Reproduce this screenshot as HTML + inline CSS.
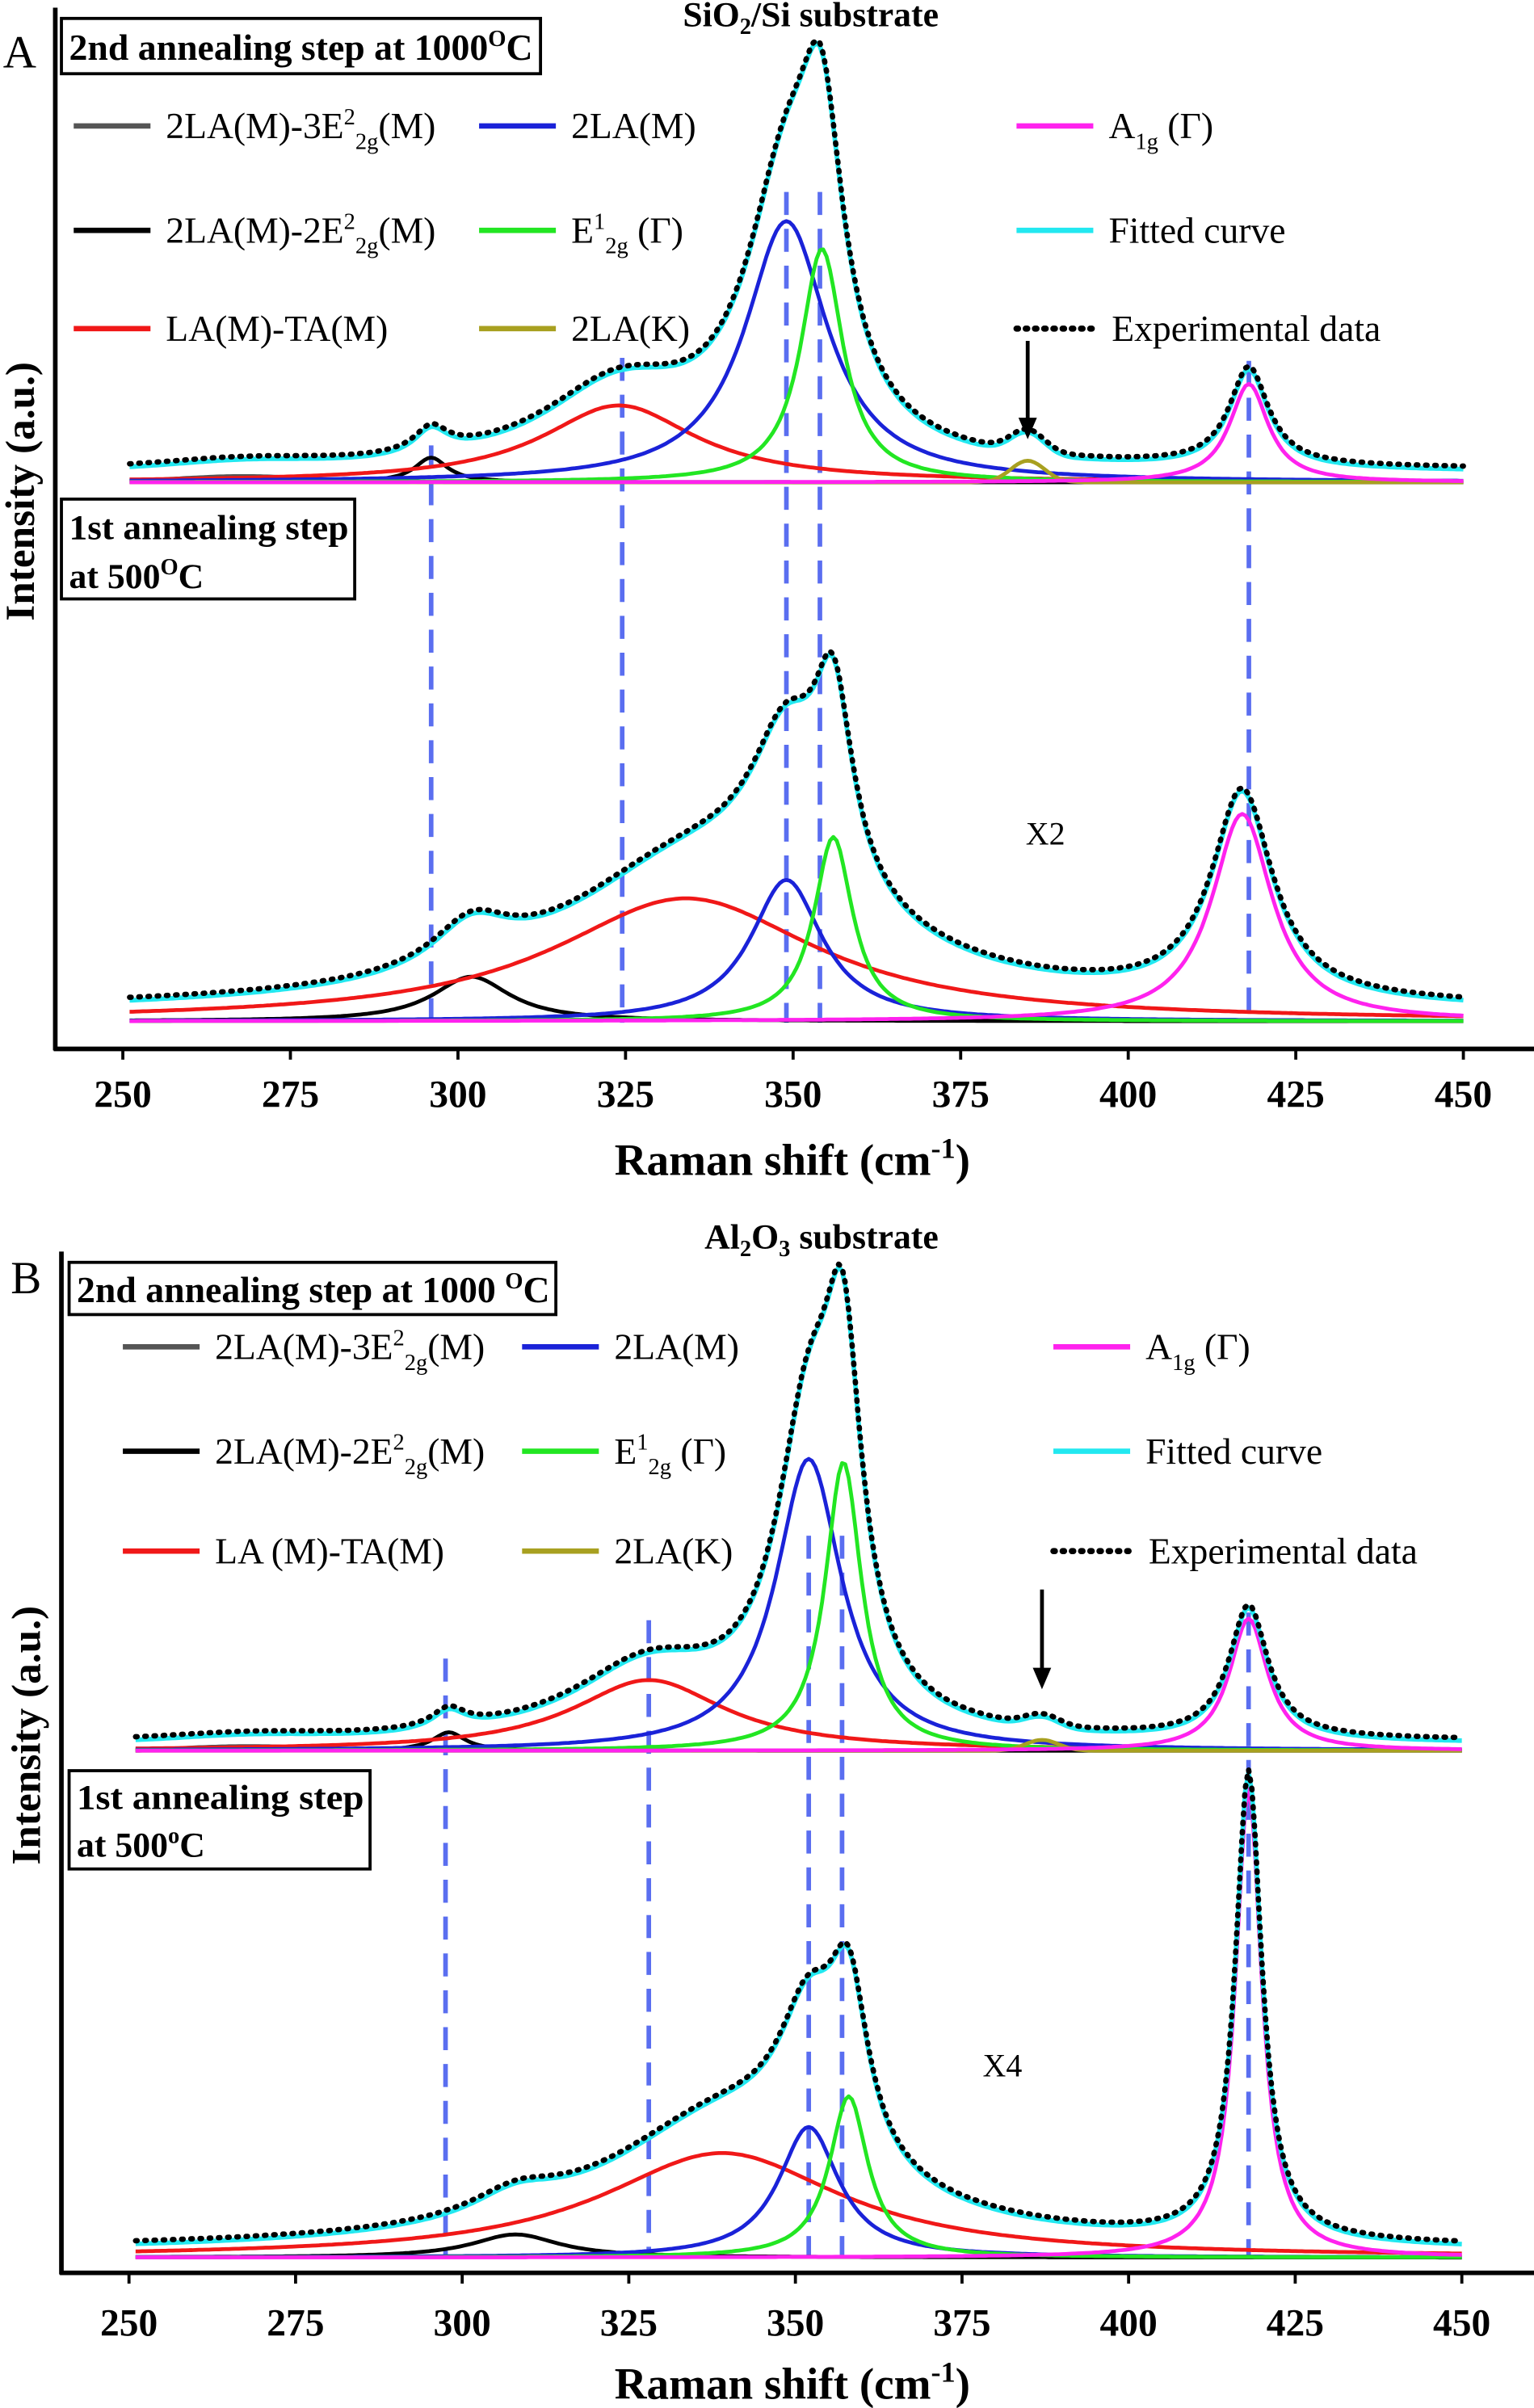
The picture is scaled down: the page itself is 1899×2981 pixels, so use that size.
<!DOCTYPE html>
<html><head><meta charset="utf-8"><style>
html,body{margin:0;padding:0;background:#fff}
svg{display:block}
text{font-family:"Liberation Serif",serif;fill:#000}
.t{font-size:24px}
.b{font-weight:bold}
</style></head><body>
<svg id="s" width="1899" height="2981" viewBox="0 0 999 1568" preserveAspectRatio="none" xmlns="http://www.w3.org/2000/svg">
<rect width="999" height="1568" fill="#fff"/>
<text x="2" y="44" font-size="30">A</text>
<rect x="40" y="12" width="312" height="36" fill="none" stroke="#000" stroke-width="2"/>
<text x="45" y="39" font-size="24" class="b" textLength="302" lengthAdjust="spacingAndGlyphs">2nd annealing step at 1000<tspan font-size="15" dy="-9">O</tspan><tspan dy="9">C</tspan></text>
<text x="528" y="17" text-anchor="middle" font-size="23" class="b">SiO<tspan font-size="15" dy="5">2</tspan><tspan dy="-5">/Si substrate</tspan></text>
<rect x="40" y="325" width="191" height="65" fill="none" stroke="#000" stroke-width="2"/>
<text x="45" y="351" font-size="23" class="b" textLength="182" lengthAdjust="spacingAndGlyphs">1st annealing step</text>
<text x="45" y="383" font-size="23" class="b">at 500<tspan font-size="15" dy="-9">O</tspan><tspan dy="9">C</tspan></text>
<line x1="36" y1="5" x2="36" y2="684" stroke="#000" stroke-width="3"/>
<line x1="35" y1="683" x2="999" y2="683" stroke="#000" stroke-width="3"/>
<g id="ta"></g>
<text x="516" y="765" text-anchor="middle" class="b" font-size="29">Raman shift (cm<tspan font-size="19" dy="-11">-1</tspan><tspan dy="11">)</tspan></text>
<text transform="translate(22,320) rotate(-90)" text-anchor="middle" class="b" font-size="27">Intensity (a.u.)</text>
<text x="668" y="550" font-size="21">X2</text>
<text x="7" y="842" font-size="30">B</text>
<rect x="45" y="822" width="317" height="34" fill="none" stroke="#000" stroke-width="2"/>
<text x="50" y="848" font-size="24" class="b" textLength="308" lengthAdjust="spacingAndGlyphs">2nd annealing step at 1000 <tspan font-size="15" dy="-9">O</tspan><tspan dy="9">C</tspan></text>
<text x="535" y="813" text-anchor="middle" font-size="23" class="b">Al<tspan font-size="15" dy="5">2</tspan><tspan dy="-5">O</tspan><tspan font-size="15" dy="5">3</tspan><tspan dy="-5"> substrate</tspan></text>
<rect x="45" y="1153" width="196" height="64" fill="none" stroke="#000" stroke-width="2"/>
<text x="50" y="1178" font-size="23" class="b" textLength="187" lengthAdjust="spacingAndGlyphs">1st  annealing step</text>
<text x="50" y="1209" font-size="23" class="b">at 500<tspan font-size="15" dy="-9">o</tspan><tspan dy="9">C</tspan></text>
<line x1="40" y1="815" x2="40" y2="1481" stroke="#000" stroke-width="3"/>
<line x1="39" y1="1480" x2="999" y2="1480" stroke="#000" stroke-width="3"/>
<g id="tb"></g>
<text x="516" y="1562" text-anchor="middle" class="b" font-size="29">Raman shift (cm<tspan font-size="19" dy="-11">-1</tspan><tspan dy="11">)</tspan></text>
<text transform="translate(26,1130) rotate(-90)" text-anchor="middle" class="b" font-size="27">Intensity (a.u.)</text>
<text x="640" y="1352" font-size="21">X4</text>
<g id="curves"></g>
<g id="leg"></g>
</svg>
<script>
var NS="http://www.w3.org/2000/svg";
function el(p,n,a,txt){var e=document.createElementNS(NS,n);for(var k in a)e.setAttribute(k,a[k]);if(txt!=null)e.textContent=txt;p.appendChild(e);return e;}
var C=document.getElementById('curves');
function L(c,w,h){return function(x){return h/(1+Math.pow((x-c)/w,2));};}
function G(c,w,h){return function(x){return h*Math.exp(-Math.pow((x-c)/w,2)/2);};}
function draw(x0,sc,base,fns,col,extra,dash,wid){
  var d="";for(var x=251;x<=450;x+=0.5){var y=0;for(var i=0;i<fns.length;i++)y+=fns[i](x);if(extra)y+=extra(x);
    d+=(x==251?"M":"L")+(x0+(x-250)*sc).toFixed(1)+","+(base-y).toFixed(1);}
  var a={d:d,fill:"none",stroke:col,"stroke-width":wid||2.5,"stroke-linejoin":"round"};
  if(dash){a["stroke-dasharray"]="1 5";a["stroke-linecap"]="round";a["stroke-width"]=3.5;}
  el(C,"path",a);
}
function panel(x0,sc,base,comps,bg){
  var all=comps.map(function(c){return c[0];});
  for(var i=0;i<comps.length;i++)draw(x0,sc,base,[comps[i][0]],comps[i][1]);
  draw(x0,sc,base,all,"#22e8f0",bg,false,3);
  draw(x0,sc,base-2,all,"#000",bg,true);
}
function ticks(g,x0,sc,y,ly){g=document.getElementById(g);
  for(var v=250;v<=450;v+=25){var x=x0+(v-250)*sc;el(g,"line",{x1:x,y1:y,x2:x,y2:y+7,stroke:"#000","stroke-width":2});
  el(g,"text",{x:x,y:ly,"text-anchor":"middle","class":"b","font-size":"25"},v);}}
ticks("ta",80,4.365,683,721);ticks("tb",84,4.34,1480,1521);
function vdash(x0,sc,list,yb){list.forEach(function(p){var x=x0+(p[0]-250)*sc;el(C,"line",{x1:x,y1:p[1],x2:x,y2:yb,stroke:"#5a6ef0","stroke-width":3,"stroke-dasharray":"15 9"});});}
function arrow(x,y1,y2){el(C,"line",{x1:x,y1:y1,x2:x,y2:y2-12,stroke:"#000","stroke-width":2.5});el(C,"path",{d:"M"+(x-6)+","+(y2-14)+"L"+(x+6)+","+(y2-14)+"L"+x+","+y2+"Z",fill:"#000"});}
var gray="#555",blk="#000",blue="#1a22d8",red="#f01818",grn="#22e622",olv="#a8a020",mag="#ff22ee";
vdash(80,4.365,[[296,290],[324.5,233],[349,125],[354,125],[418,235]],666);
panel(80,4.365,314,[[G(268,10,4),gray],[L(296,3,16),blk],[L(324,14,50),red],[L(349,7.5,170),blue],[L(354.3,3.8,152),grn],[G(385,2.5,14),olv],[L(418,3.5,64),mag]],function(x){return 6;});
panel(80,4.365,665,[[L(302,7,29),blk],[L(334,24,80),red],[L(349,6.5,92),blue],[L(356,3.5,120),grn],[L(417,5.5,135),mag]],function(x){return 5+L(350,22,26)(x);});
arrow(80+(385-250)*4.365,222,286);
vdash(84,4.34,[[297.5,1080],[328,1055],[352,1000],[357,1000],[418,1050]],1470);
panel(84,4.34,1140,[[G(268,10,3),gray],[L(298,3,12),blk],[L(328,14,46),red],[L(352,6,190),blue],[L(357.2,3.3,188),grn],[G(387,2.5,7),olv],[L(418,3.5,86),mag]],function(x){return 4;});
panel(84,4.34,1470,[[L(308,8,15),blk],[L(339,22,68),red],[L(352,5.5,85),blue],[L(358,3.5,105),grn],[L(418,2.4,305),mag]],function(x){return 3+L(345,25,18)(x);});
arrow(84+(387-250)*4.34,1035,1100);
var Lg=document.getElementById('leg');
function leg(items){items.forEach(function(it){var dot=it[5];
  el(Lg,"line",dot?{x1:it[0],y1:it[1],x2:it[2],y2:it[1],stroke:"#000","stroke-width":4,"stroke-dasharray":"1 5","stroke-linecap":"round"}:{x1:it[0],y1:it[1],x2:it[2],y2:it[1],stroke:it[3],"stroke-width":3.5});
  var t=el(Lg,"text",{x:it[2]+10,y:it[1]+8,"class":"t"});t.innerHTML=it[4];});}
var e3='2LA(M)-3E<tspan font-size="15" dy="-9">2</tspan><tspan font-size="15" dy="16">2g</tspan><tspan dy="-7">(M)</tspan>';
var e2='2LA(M)-2E<tspan font-size="15" dy="-9">2</tspan><tspan font-size="15" dy="16">2g</tspan><tspan dy="-7">(M)</tspan>';
var eg='E<tspan font-size="15" dy="-9">1</tspan><tspan font-size="15" dy="16">2g</tspan><tspan dy="-7"> (Γ)</tspan>';
var ag='A<tspan font-size="15" dy="7">1g</tspan><tspan dy="-7"> (Γ)</tspan>';
function legset(c1,c2,c3,r,la){leg([[c1,r[0],c1+50,gray,e3],[c1,r[1],c1+50,blk,e2],[c1,r[2],c1+50,red,la],
 [c2,r[0],c2+50,blue,"2LA(M)"],[c2,r[1],c2+50,grn,eg],[c2,r[2],c2+50,olv,"2LA(K)"],
 [c3,r[0],c3+50,mag,ag],[c3,r[1],c3+50,"#22e8f0","Fitted curve"],[c3,r[2],c3+52,"#000","Experimental data",true]]);}
legset(48,312,662,[82,150,214],"LA(M)-TA(M)");
legset(80,340,686,[877,945,1010],"LA (M)-TA(M)");
</script>
</body></html>
